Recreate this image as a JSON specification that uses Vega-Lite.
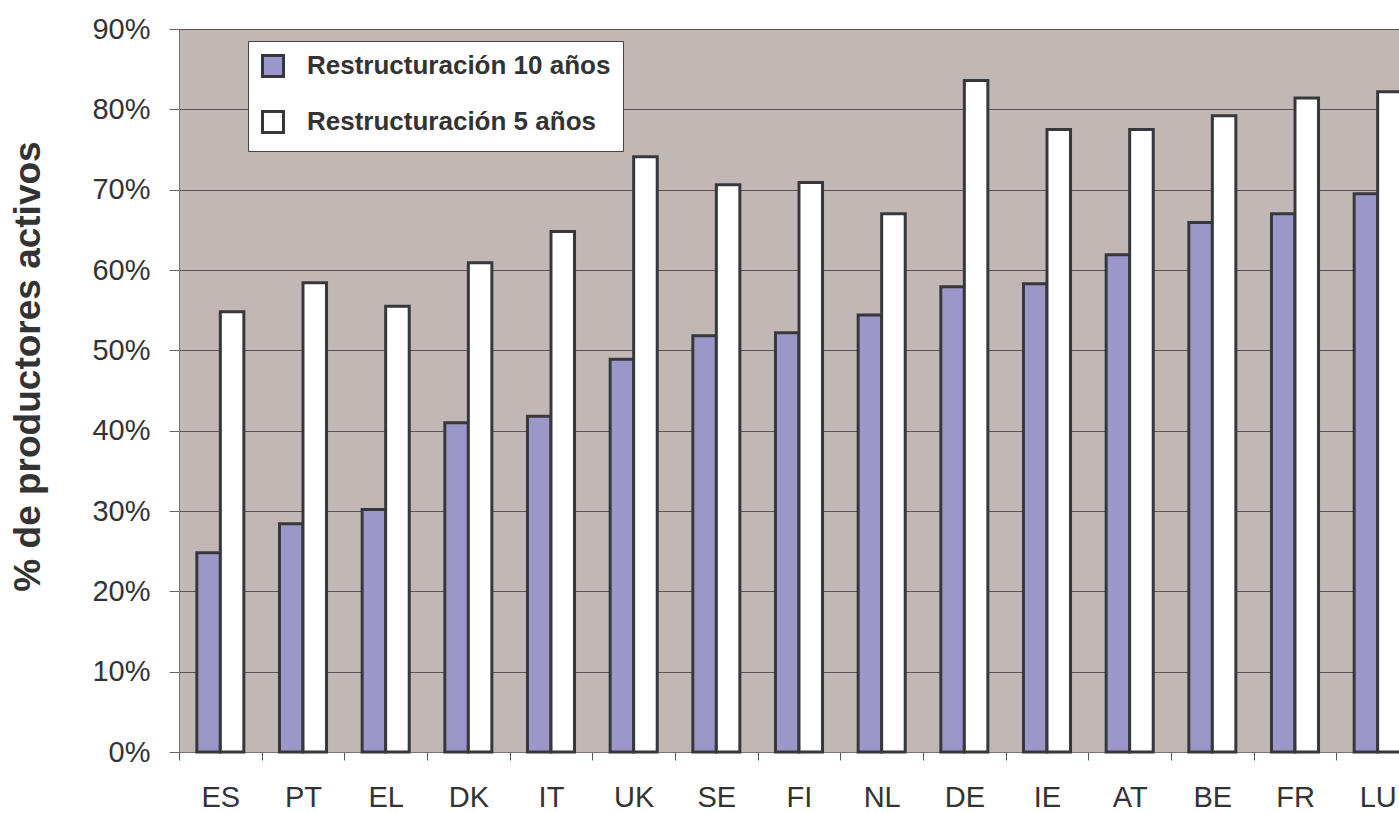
{
  "$schema": "https://vega.github.io/schema/vega-lite/v6.json",
  "autosize": {"type": "none"},
  "width": 1220,
  "height": 723,
  "padding": {"left": 179, "top": 29, "right": 0, "bottom": 61},
  "background": "white",
  "config": {
    "font": "Liberation Sans",
    "view": {"fill": "#c1b8b6", "stroke": "#7a7272", "strokeWidth": 1}
  },
  "data": {
    "values": [
      {"pais": "ES", "serie": "Restructuración 10 años", "valor": 0.248},
      {"pais": "ES", "serie": "Restructuración 5 años", "valor": 0.548},
      {"pais": "PT", "serie": "Restructuración 10 años", "valor": 0.284},
      {"pais": "PT", "serie": "Restructuración 5 años", "valor": 0.584},
      {"pais": "EL", "serie": "Restructuración 10 años", "valor": 0.302},
      {"pais": "EL", "serie": "Restructuración 5 años", "valor": 0.555},
      {"pais": "DK", "serie": "Restructuración 10 años", "valor": 0.410},
      {"pais": "DK", "serie": "Restructuración 5 años", "valor": 0.609},
      {"pais": "IT", "serie": "Restructuración 10 años", "valor": 0.418},
      {"pais": "IT", "serie": "Restructuración 5 años", "valor": 0.648},
      {"pais": "UK", "serie": "Restructuración 10 años", "valor": 0.489},
      {"pais": "UK", "serie": "Restructuración 5 años", "valor": 0.741},
      {"pais": "SE", "serie": "Restructuración 10 años", "valor": 0.518},
      {"pais": "SE", "serie": "Restructuración 5 años", "valor": 0.706},
      {"pais": "FI", "serie": "Restructuración 10 años", "valor": 0.522},
      {"pais": "FI", "serie": "Restructuración 5 años", "valor": 0.709},
      {"pais": "NL", "serie": "Restructuración 10 años", "valor": 0.544},
      {"pais": "NL", "serie": "Restructuración 5 años", "valor": 0.670},
      {"pais": "DE", "serie": "Restructuración 10 años", "valor": 0.579},
      {"pais": "DE", "serie": "Restructuración 5 años", "valor": 0.836},
      {"pais": "IE", "serie": "Restructuración 10 años", "valor": 0.583},
      {"pais": "IE", "serie": "Restructuración 5 años", "valor": 0.775},
      {"pais": "AT", "serie": "Restructuración 10 años", "valor": 0.619},
      {"pais": "AT", "serie": "Restructuración 5 años", "valor": 0.775},
      {"pais": "BE", "serie": "Restructuración 10 años", "valor": 0.659},
      {"pais": "BE", "serie": "Restructuración 5 años", "valor": 0.792},
      {"pais": "FR", "serie": "Restructuración 10 años", "valor": 0.670},
      {"pais": "FR", "serie": "Restructuración 5 años", "valor": 0.814},
      {"pais": "LU", "serie": "Restructuración 10 años", "valor": 0.695},
      {"pais": "LU", "serie": "Restructuración 5 años", "valor": 0.822}
    ]
  },
  "mark": {"type": "bar", "stroke": "#38383c", "strokeWidth": 3, "strokeJoin": "miter"},
  "encoding": {
    "x": {
      "field": "pais",
      "type": "nominal",
      "sort": null,
      "scale": {"paddingInner": 0, "paddingOuter": 0, "range": [0, 1240]},
      "axis": {
        "title": null,
        "labelAngle": 0,
        "labelFontSize": 29,
        "labelColor": "#333333",
        "labelPadding": 23,
        "tickBand": "extent",
        "tickSize": 8,
        "tickColor": "#555555",
        "domainColor": "#7a7272",
        "grid": false
      }
    },
    "xOffset": {
      "field": "serie",
      "type": "nominal",
      "sort": ["Restructuración 10 años", "Restructuración 5 años"],
      "scale": {"paddingInner": 0, "paddingOuter": 0.757}
    },
    "y": {
      "field": "valor",
      "type": "quantitative",
      "scale": {"domain": [0, 0.9], "nice": false},
      "axis": {
        "title": "% de productores activos",
        "titleFontSize": 37,
        "titleFontWeight": "bold",
        "titleColor": "#333333",
        "titlePadding": 44,
        "titleY": 337,
        "format": ".0%",
        "values": [0, 0.1, 0.2, 0.3, 0.4, 0.5, 0.6, 0.7, 0.8, 0.9],
        "labelFontSize": 29,
        "labelColor": "#333333",
        "labelPadding": 19,
        "tickSize": 10,
        "tickColor": "#6a6464",
        "domainColor": "#7a7272",
        "gridColor": "#5a5454",
        "gridWidth": 1,
        "gridOpacity": 1
      }
    },
    "fill": {
      "field": "serie",
      "type": "nominal",
      "scale": {
        "domain": ["Restructuración 10 años", "Restructuración 5 años"],
        "range": ["#9c97c9", "#ffffff"]
      },
      "legend": {
        "title": null,
        "orient": "none",
        "legendX": 69,
        "legendY": 12,
        "direction": "vertical",
        "fillColor": "white",
        "strokeColor": "#444444",
        "padding": 12,
        "symbolType": "square",
        "symbolSize": 441,
        "symbolStrokeWidth": 3,
        "symbolStrokeColor": "#38383c",
        "labelFontSize": 26,
        "labelFontWeight": "bold",
        "labelColor": "#333333",
        "labelOffset": 21,
        "rowPadding": 22,
        "labelLimit": 500
      }
    }
  }
}
